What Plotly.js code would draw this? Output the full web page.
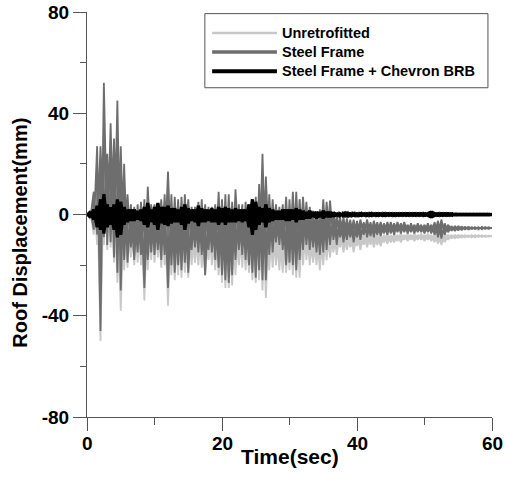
<!DOCTYPE html>
<html>
<head>
<meta charset="utf-8">
<script src="https://cdn.plot.ly/plotly-3.0.1.min.js"></script>
<style>html,body{margin:0;padding:0;background:#fff;}#chart{width:510px;height:488px;}</style>
</head>
<body>
<div id="chart"></div>
<script>
// Sample times (s)
const time = [
 0,0.5,1,1.5,2,2.5,3,3.5,4,4.5,
 5,5.5,6,6.5,7,7.5,8,8.5,9,9.5,
 10,10.5,11,11.5,12,12.5,13,13.5,14,14.5,
 15,15.5,16,16.5,17,17.5,18,18.5,19,19.5,
 20,20.5,21,21.5,22,22.5,23,23.5,24,24.5,
 25,25.5,26,26.5,27,27.5,28,28.5,29,29.5,
 30,30.5,31,31.5,32,32.5,33,33.5,34,34.5,
 35,35.5,36,36.5,37,37.5,38,38.5,39,39.5,
 40,40.5,41,41.5,42,42.5,43,43.5,44,44.5,
 45,45.5,46,46.5,47,47.5,48,48.5,49,49.5,
 50,50.5,51,51.5,52,52.5,53,53.5,54,54.5,
 55,55.5,56,56.5,57,57.5,58,58.5,59,59.5,
 60
];

// Unretrofitted: successive peaks (hi) and troughs (lo), mm
const unretHi = [
 0.5,1.5,8,12,10,18,21,15,12,10,
 8,5,3,2,0,1,2,3,5,1,
 0,1,2,3,6,3,2,1,2,2,
 1,-2,-3,-1,0,-1,-3,-3,-1,2,
 1,2,1,-1,2,-2,-2,-1,-2,-1,
 1,3,6,4,0,-1,-3,-4,-3,0,
 -1,1,2,6,4,-2,-4,-5,-5,-4,
 -2,-3,-3,-5,-6,-6,-6,-6,-7,-7,
 -7,-7,-7.5,-7,-7.5,-7.5,-7.5,-8,-8,-7.5,
 -8,-7.5,-8,-7.5,-8,-7.5,-8,-7.5,-8,-7.5,
 -8,-7.5,-8,-7.5,-7,-7,-7.5,-8,-8,-8,
 -8,-8.1,-8.1,-8.2,-8.2,-8.3,-8.3,-8.3,-8.4,-8.4,
 -8.5
];
const unretLo = [
 -0.5,-2,-8,-12,-50,-12,-14,-13,-19,-27,
 -38,-22,-21,-17,-20,-19,-20,-34,-22,-18,
 -19,-17,-21,-20,-36,-24,-26,-24,-25,-23,
 -25,-20,-19,-20,-21,-24,-18,-20,-22,-24,
 -27,-29,-29,-28,-24,-20,-21,-22,-23,-26,
 -27,-26,-30,-33,-22,-21,-20,-22,-23,-23,
 -22,-24,-25,-25,-20,-18,-20,-19,-20,-22,
 -20,-18,-17,-15,-16,-13,-15,-14,-13,-15,
 -12.5,-14,-12,-13,-12,-13,-12,-12.5,-11,-11.5,
 -11,-11,-10.5,-11,-10,-10.5,-10,-10.5,-10,-10,
 -10.5,-10,-10.5,-11,-11.5,-12,-11,-10,-9.5,-9.5,
 -9.3,-9.2,-9.1,-9,-9,-8.9,-8.8,-8.8,-8.7,-8.7,
 -8.6
];

// Steel Frame
const steelHi = [
 0.5,1.5,9,27,27,52,24,36,30,45,
 27,20,8,4,3,4,5,6,11,4,
 4,4,6,8,17,8,7,6,7,8,
 6,3,3,5,6,4,3,3,4,9,
 6,8,8,5,10,4,4,5,4,5,
 7,12,24,15,8,6,4,3,4,7,
 6,9,9,6,7,5,3,1.5,1,2,
 6,5,5.5,1,0,-1,-1,-1.5,-2,-2,
 -2.5,-2,-3,-2,-3,-2.5,-3,-3,-3.5,-3,
 -3,-3.5,-3,-3.5,-3,-4,-3.5,-4,-3.5,-4,
 -4,-3.5,-4,-3,-2.5,-2,-3.5,-4,-4.5,-4.5,
 -4.5,-4.7,-4.8,-4.8,-4.9,-5,-5,-5,-5.1,-5.1,
 -5.2
];
const steelLo = [
 -0.5,-1.5,-6,-8,-46,-9,-12,-11,-17,-23,
 -30,-18,-19,-13,-18,-15,-16,-29,-18,-15,
 -16,-14,-18,-16,-29,-20,-23,-20,-22,-19,
 -23,-14,-13,-15,-16,-24,-14,-15,-18,-21,
 -24,-26,-27,-24,-18,-14,-16,-18,-20,-23,
 -25,-22,-26,-26,-16,-15,-11,-12,-14,-20,
 -19,-20,-22,-18,-14,-12,-14,-13,-15,-16,
 -15,-14,-12,-10,-12,-9,-11,-10,-9,-11,
 -9,-10,-8,-9,-8.5,-9,-8,-8.5,-7.5,-8,
 -7.5,-8,-7,-7.5,-7,-7.5,-7,-7.5,-7,-7,
 -7.5,-7,-7.5,-8,-9,-9.5,-8,-7,-6.5,-6.5,
 -6.3,-6.2,-6,-6,-5.8,-5.8,-5.7,-5.7,-5.6,-5.6,
 -5.5
];

// Steel Frame + Chevron BRB
const brbHi = [
 0.3,1,2,3.5,6,8,4,3,4,6,
 5,3,2,2,2,1.5,2,3,4.5,2,
 3,4.5,3,3,3.5,2.5,2.5,2,3,4,
 2.5,2,2,3.5,2.5,2,2,2.5,2,3,
 2.5,3,2.5,2,2.5,2,2,2,4,6,
 5,3,2.5,4,2.5,2,1.5,1.5,2,2,
 2,2,2.5,2,1.5,1,1.5,1,1,1,
 1.5,1,1,0.8,0.5,0.3,0.3,0.4,0.2,0.3,
 0.2,0.3,0.2,0.2,0.3,0.2,0.2,0.2,0.3,0.2,
 0.2,0.2,0.2,0.2,0.2,0.2,0.2,0.2,0.2,0.2,
 0.2,0.4,1.2,0.4,0.2,0.2,0.2,0.2,0.2,0.1,
 0.1,0.1,0.1,0.1,0.1,0.1,0.1,0.1,0.1,0.1,
 0.1
];
const brbLo = [
 -0.3,-1,-2,-5,-6,-7.5,-5,-4,-6,-9,
 -8,-4,-3,-2.5,-2.5,-2,-2.5,-4,-5,-3,
 -4,-6,-3.5,-4,-4.5,-3.5,-3,-3,-4,-6,
 -3.5,-2.5,-3,-4.5,-3,-3,-2.5,-3,-3,-4,
 -3,-4,-3,-3,-3,-2.5,-3,-2.5,-5,-8,
 -6,-4,-3,-5,-3,-2.5,-2,-2,-2,-2.5,
 -2.5,-2,-3,-2,-2,-1.5,-1.5,-1,-1.5,-1,
 -1.5,-1,-1,-0.8,-0.5,-0.4,-0.3,-0.4,-0.3,-0.3,
 -0.3,-0.3,-0.2,-0.3,-0.3,-0.2,-0.3,-0.2,-0.3,-0.2,
 -0.2,-0.3,-0.2,-0.2,-0.2,-0.2,-0.2,-0.2,-0.2,-0.2,
 -0.2,-0.4,-1.2,-0.4,-0.2,-0.2,-0.2,-0.2,-0.2,-0.1,
 -0.1,-0.1,-0.1,-0.1,-0.1,-0.1,-0.1,-0.1,-0.1,-0.1,
 -0.1
];

const yTickVals = [-80,-40,0,40,80];
const yTickText = ['-80','-40','0','40','80'];
const xTickVals = [0,20,40,60];
const xTickText = ['0','20','40','60'];
const seriesNames = ['Unretrofitted','Steel Frame','Steel Frame + Chevron BRB'];
const seriesColors = ['#c8c8c8','#6e6e6e','#000000'];

// Path through every peak/trough, forward then backward, so the
// oscillation is drawn as a dense crossing zig-zag.
function oscillation(hi, lo){
  const xs = [], ys = [];
  for (let i = 0; i < time.length; i++){
    xs.push(time[i], time[i]);
    ys.push(hi[i], lo[i]);
  }
  for (let i = time.length - 1; i >= 0; i--){
    xs.push(time[i], time[i]);
    ys.push(hi[i], lo[i]);
  }
  return {x: xs, y: ys};
}

const s0 = oscillation(unretHi, unretLo);
const s1 = oscillation(steelHi, steelLo);
const s2 = oscillation(brbHi, brbLo);

const traces = [
  {x:s0.x, y:s0.y, mode:'lines', name:seriesNames[0], line:{color:seriesColors[0], width:1.8}, showlegend:false, hoverinfo:'skip'},
  {x:s1.x, y:s1.y, mode:'lines', name:seriesNames[1], line:{color:seriesColors[1], width:1.8}, showlegend:false, hoverinfo:'skip'},
  {x:s2.x, y:s2.y, mode:'lines', name:seriesNames[2], line:{color:seriesColors[2], width:3.2}, showlegend:false, hoverinfo:'skip'}
];

const F = 'Liberation Sans, Arial, Helvetica, sans-serif';
const axCol = '#555555';

// legend drawn with shapes/annotations (paper coords)
const legX0 = 0.291, legX1 = 0.990, legY0 = 0.813, legY1 = 0.996;
const legLineX0 = 0.309, legLineX1 = 0.469, legTextX = 0.477;
const legRows = [0.948, 0.901, 0.854];
const legWidths = [2.5, 3.5, 4];

const shapes = [
  {type:'rect', xref:'paper', yref:'paper', x0:legX0, x1:legX1, y0:legY0, y1:legY1, line:{color:axCol, width:1}, fillcolor:'rgba(0,0,0,0)'}
];
const annotations = [];
for (let i = 0; i < 3; i++){
  shapes.push({type:'line', xref:'paper', yref:'paper', x0:legLineX0, x1:legLineX1, y0:legRows[i], y1:legRows[i], line:{color:seriesColors[i], width:legWidths[i]}});
  annotations.push({xref:'paper', yref:'paper', x:legTextX, y:legRows[i], xanchor:'left', yanchor:'middle', showarrow:false, text:seriesNames[i], font:{family:F, size:14.5, weight:'bold', color:'#000'}});
}
// x tick labels placed on the x scale
for (let i = 0; i < xTickVals.length; i++){
  annotations.push({xref:'x', yref:'paper', x:xTickVals[i], y:-0.066, xanchor:'center', yanchor:'middle', showarrow:false, text:xTickText[i], font:{family:F, size:19, weight:'bold', color:'#000'}});
}
annotations.push({xref:'paper', yref:'paper', x:-0.166, y:0.4545, xanchor:'center', yanchor:'middle', textangle:-90, showarrow:false, text:'Roof Displacement(mm)', font:{family:F, size:20, weight:'bold', color:'#000'}});
annotations.push({xref:'paper', yref:'paper', x:0.501, y:-0.098, xanchor:'center', yanchor:'middle', showarrow:false, text:'Time(sec)', font:{family:F, size:21, weight:'bold', color:'#000'}});

const layout = {
  width:510, height:488,
  margin:{l:87, r:18, t:12, b:71, pad:0},
  paper_bgcolor:'#fff', plot_bgcolor:'#fff',
  showlegend:false,
  xaxis:{
    range:[0,60], showgrid:false, zeroline:false, showline:true, linecolor:axCol, linewidth:1,
    tickmode:'array', tickvals:xTickVals, ticktext:xTickText, showticklabels:false,
    ticks:'outside', ticklen:13, tickcolor:axCol, tickwidth:1,
    minor:{dtick:10, tick0:0, ticks:'outside', ticklen:7, tickcolor:axCol, tickwidth:1, showgrid:false},
    fixedrange:true
  },
  yaxis:{
    range:[-80,80], showgrid:false, zeroline:false, showline:true, linecolor:axCol, linewidth:1,
    tickmode:'array', tickvals:yTickVals, ticktext:yTickText,
    ticks:'outside', ticklen:13, tickcolor:axCol, tickwidth:1,
    minor:{dtick:20, tick0:0, ticks:'outside', ticklen:6, tickcolor:axCol, tickwidth:1, showgrid:false},
    tickfont:{family:F, size:19, weight:'bold', color:'#000'},
    fixedrange:true
  },
  shapes:shapes,
  annotations:annotations
};

Plotly.newPlot('chart', traces, layout, {staticPlot:true, displayModeBar:false});
</script>
</body>
</html>
